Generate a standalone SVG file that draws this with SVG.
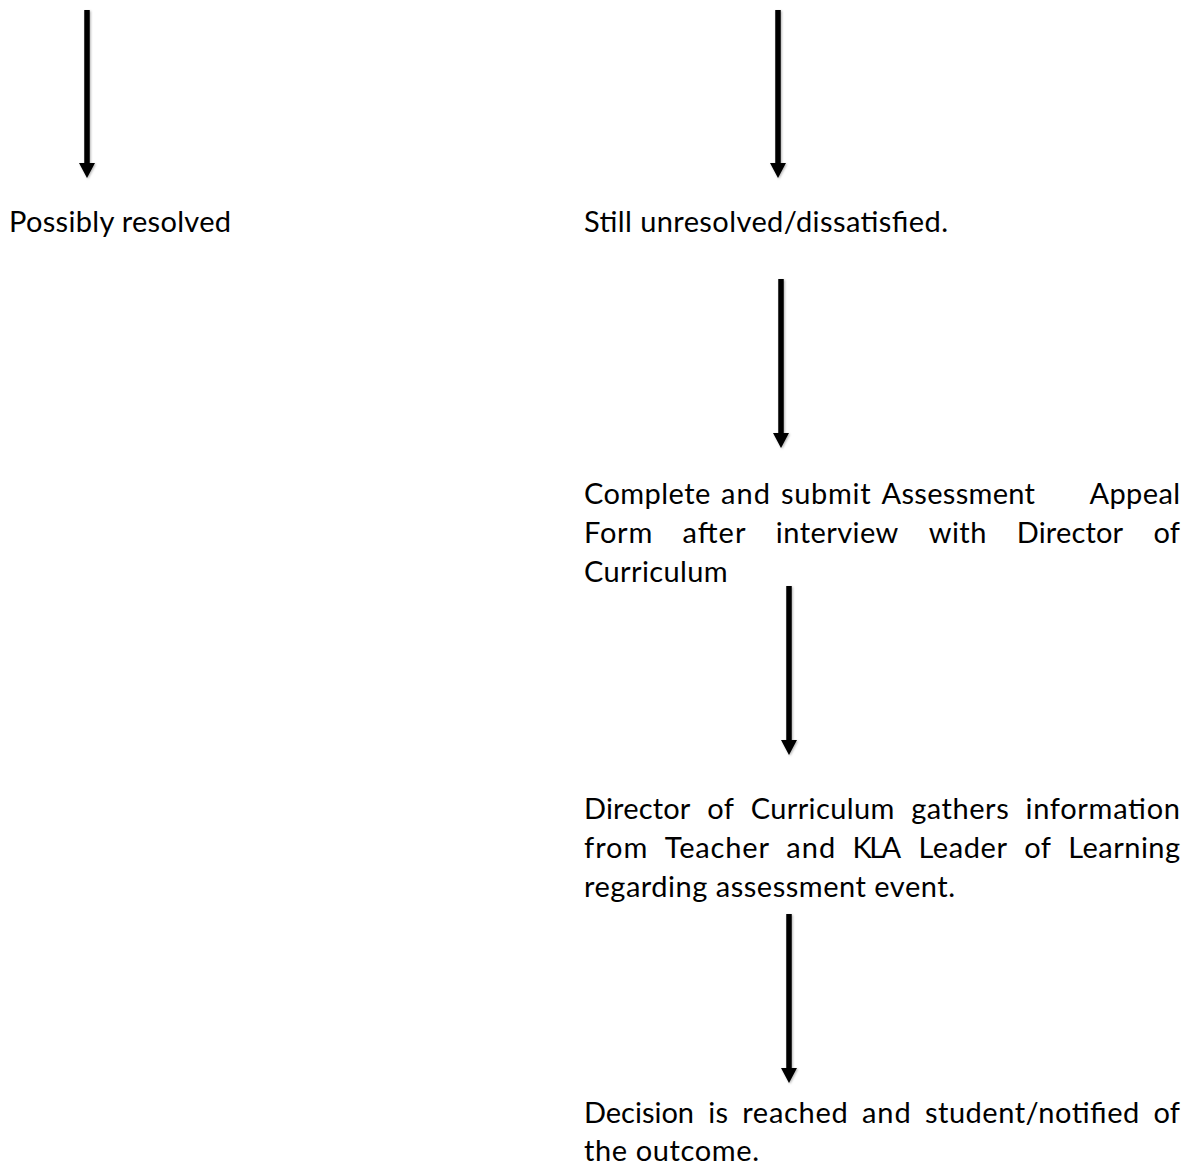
<svg xmlns="http://www.w3.org/2000/svg" width="1192" height="1164" viewBox="0 0 1192 1164">
<style>
  text { font-family: Lato, "Open Sans", sans-serif; font-size: 29px; fill: #000; }
  .shaft { stroke: #000; stroke-width: 5.5; fill: none; marker-end: url(#head); }
</style>
<defs>
  <marker id="head" markerUnits="userSpaceOnUse" markerWidth="16" markerHeight="17" viewBox="0 -8.5 16 17" refX="0" refY="0" orient="auto" overflow="visible">
    <path d="M0,-8 L15,0 L0,8 Z" fill="#000"/>
  </marker>
  <filter id="shadow" x="-50%" y="-5%" width="200%" height="110%">
    <feDropShadow dx="1" dy="1" stdDeviation="1.2" flood-color="#000" flood-opacity="0.3"/>
  </filter>
</defs>
<rect width="1192" height="1164" fill="#fff"/>

<g id="connectors" filter="url(#shadow)">
  <line class="shaft" x1="87" y1="10" x2="87" y2="163"/>
  <line class="shaft" x1="778" y1="10" x2="778" y2="163"/>
  <line class="shaft" x1="781" y1="279" x2="781" y2="433"/>
  <line class="shaft" x1="789" y1="586" x2="789" y2="740"/>
  <line class="shaft" x1="789" y1="914" x2="789" y2="1068"/>
</g>

<g id="node-possibly-resolved">
  <text x="9" y="232" textLength="222" lengthAdjust="spacing">Possibly resolved</text>
</g>

<g id="node-still-unresolved">
  <text x="584" y="232" textLength="364" lengthAdjust="spacing">Still unresolved/dissatisfied.</text>
</g>

<g id="node-appeal-form">
  <text y="504"><tspan x="584" textLength="126.2">Complete</tspan><tspan x="721.1" textLength="48.9">and</tspan><tspan x="780.9" textLength="89.7">submit</tspan><tspan x="881.5" textLength="153.5">Assessment</tspan><tspan x="1089.4" textLength="90.7">Appeal</tspan></text>
  <text y="543"><tspan x="584" textLength="68.3">Form</tspan><tspan x="682.6" textLength="62.9">after</tspan><tspan x="775.8" textLength="122.6">interview</tspan><tspan x="928.7" textLength="57.7">with</tspan><tspan x="1016.7" textLength="106.4">Director</tspan><tspan x="1153.4" textLength="26.6">of</tspan></text>
  <text x="584" y="582" textLength="143.6" lengthAdjust="spacing">Curriculum</text>
</g>

<g id="node-gathers-info">
  <text y="819"><tspan x="584" textLength="106.4">Director</tspan><tspan x="707.3" textLength="26.6">of</tspan><tspan x="750.7" textLength="143.6">Curriculum</tspan><tspan x="911.2" textLength="97.5">gathers</tspan><tspan x="1025.5" textLength="154.5">information</tspan></text>
  <text y="858"><tspan x="584" textLength="63.4">from</tspan><tspan x="664.7" textLength="104.3">Teacher</tspan><tspan x="786.3" textLength="48.9">and</tspan><tspan x="852.5" textLength="48.6">KLA</tspan><tspan x="918.4" textLength="88.6">Leader</tspan><tspan x="1024.3" textLength="26.6">of</tspan><tspan x="1068.2" textLength="111.9">Learning</tspan></text>
  <text x="584" y="897" textLength="371" lengthAdjust="spacing">regarding assessment event.</text>
</g>

<g id="node-decision">
  <text y="1123"><tspan x="584" textLength="110">Decision</tspan><tspan x="708.2" textLength="19.8">is</tspan><tspan x="742.2" textLength="105.5">reached</tspan><tspan x="861.9" textLength="48.9">and</tspan><tspan x="925" textLength="214.2">student/notified</tspan><tspan x="1153.4" textLength="26.6">of</tspan></text>
  <text x="584" y="1161" textLength="175" lengthAdjust="spacing">the outcome.</text>
</g>
</svg>
